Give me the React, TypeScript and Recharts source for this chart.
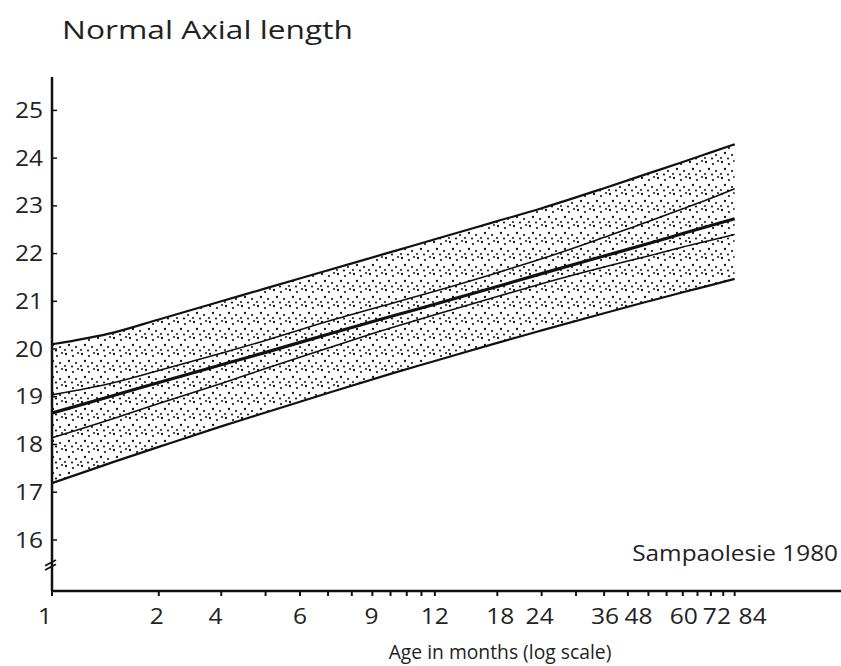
import { ComposedChart, Area, Line, XAxis, YAxis, ReferenceLine } from "recharts";

const ages = [1, 1.5, 2, 3, 4, 6, 9, 12, 18, 24, 36, 48, 60, 72, 84];
const upperLimit = [20.1, 20.35, 20.62, 21.0, 21.27, 21.65, 22.03, 22.3, 22.68, 22.95, 23.37, 23.68, 23.92, 24.12, 24.29];
const upperSD = [19.04, 19.3, 19.55, 19.91, 20.18, 20.58, 20.95, 21.21, 21.6, 21.89, 22.34, 22.67, 22.94, 23.16, 23.36];
const mean = [18.66, 19.03, 19.3, 19.67, 19.93, 20.31, 20.68, 20.94, 21.31, 21.58, 21.95, 22.21, 22.42, 22.59, 22.73];
const lowerSD = [18.14, 18.55, 18.86, 19.28, 19.59, 20.02, 20.44, 20.72, 21.1, 21.37, 21.72, 21.95, 22.14, 22.28, 22.4];
const lowerLimit = [17.19, 17.64, 17.95, 18.38, 18.67, 19.08, 19.48, 19.75, 20.13, 20.39, 20.75, 21.0, 21.19, 21.34, 21.47];

const ageTicks = [1, 2, 3, 4, 5, 6, 7, 8, 9, 10, 11, 12, 18, 24, 30, 36, 42, 48, 54, 60, 66, 72, 78, 84];
const ageLabels = [1, 2, 4, 6, 9, 12, 18, 24, 36, 48, 60, 72, 84];
const lengthTicks = [16, 17, 18, 19, 20, 21, 22, 23, 24, 25];

const data = ages.map((age, i) => ({
  age,
  band: [lowerLimit[i], upperLimit[i]],
  upperLimit: upperLimit[i],
  upperSD: upperSD[i],
  mean: mean[i],
  lowerSD: lowerSD[i],
  lowerLimit: lowerLimit[i],
}));

const INK = "#111";
const FONT = "'Open Sans', 'Noto Sans', sans-serif";

// the printed labels sit a little off their tick marks in the original
const labelShift: Record<number, number> = {
  1: -7, 2: -2, 4: -50, 6: -28, 9: -19, 12: 0, 18: 3, 24: -2, 36: 1, 48: -10, 60: 1, 72: 6, 84: 18,
};

// ─── Ticks (the scan is stretched sideways, so the text is too) ───────────────

function AgeTick({ x, y, payload }: any) {
  if (!ageLabels.includes(payload.value)) return <g />;
  const dx = labelShift[payload.value] ?? 0;
  return (
    <text
      transform={`translate(${x + dx} ${y}) scale(1.17 1)`}
      textAnchor="middle"
      dy="0.72em"
      fontSize={21}
      fontFamily={FONT}
      fill="#222"
    >
      {payload.value}
    </text>
  );
}

function LengthTick({ x, y, payload }: any) {
  return (
    <text
      transform={`translate(${x} ${y}) scale(1.17 1)`}
      textAnchor="end"
      dy="0.36em"
      fontSize={21}
      fontFamily={FONT}
      fill="#222"
    >
      {payload.value}
    </text>
  );
}

export default function App() {
  return (
    <div style={{ position: "absolute", left: 0, top: 0, width: 841, height: 666, background: "#fff" }}>
      <ComposedChart width={841} height={666} data={data} margin={{ top: 77, right: 0, bottom: 0, left: 0 }}>
        <defs>
          <pattern id="stipple" width="16" height="16" patternUnits="userSpaceOnUse">
            <circle cx="2" cy="2" r="1.15" fill={INK} />
            <circle cx="9" cy="4" r="1.1" fill={INK} />
            <circle cx="14" cy="1" r="1" fill={INK} />
            <circle cx="5" cy="9" r="1.15" fill={INK} />
            <circle cx="12" cy="11" r="1.1" fill={INK} />
            <circle cx="1" cy="14" r="1" fill={INK} />
            <circle cx="8" cy="14.5" r="1.1" fill={INK} />
          </pattern>
        </defs>
        <XAxis
          dataKey="age"
          type="number"
          scale="log"
          domain={[1, 167.5]}
          ticks={ageTicks}
          interval={0}
          height={75}
          tickSize={5}
          tickMargin={13}
          tick={<AgeTick />}
          axisLine={{ stroke: INK, strokeWidth: 2.5 }}
          tickLine={{ stroke: INK, strokeWidth: 2 }}
        />
        <YAxis
          type="number"
          domain={[14.93, 25.7]}
          ticks={lengthTicks}
          interval={0}
          width={52}
          tickSize={-5}
          tickMargin={14}
          tick={<LengthTick />}
          axisLine={{ stroke: INK, strokeWidth: 2.5 }}
          tickLine={{ stroke: INK, strokeWidth: 1.5 }}
        />
        <Area
          type="monotone"
          dataKey="band"
          stroke="none"
          fill="url(#stipple)"
          fillOpacity={1}
          isAnimationActive={false}
          dot={false}
          activeDot={false}
        />
        <Line type="monotone" dataKey="upperLimit" stroke={INK} strokeWidth={2.2} dot={false} activeDot={false} isAnimationActive={false} />
        <Line type="monotone" dataKey="upperSD" stroke={INK} strokeWidth={1.6} dot={false} activeDot={false} isAnimationActive={false} />
        <Line type="monotone" dataKey="mean" stroke={INK} strokeWidth={3.2} dot={false} activeDot={false} isAnimationActive={false} />
        <Line type="monotone" dataKey="lowerSD" stroke={INK} strokeWidth={1.6} dot={false} activeDot={false} isAnimationActive={false} />
        <Line type="monotone" dataKey="lowerLimit" stroke={INK} strokeWidth={2.2} dot={false} activeDot={false} isAnimationActive={false} />
        {/* axis break */}
        <ReferenceLine
          segment={[{ x: 0.956, y: 15.46 }, { x: 1.026, y: 15.58 }]}
          stroke={INK}
          strokeWidth={1.8}
          ifOverflow="visible"
        />
        <ReferenceLine
          segment={[{ x: 0.956, y: 15.37 }, { x: 1.026, y: 15.49 }]}
          stroke={INK}
          strokeWidth={1.8}
          ifOverflow="visible"
        />
      </ComposedChart>
      <svg
        width={841}
        height={666}
        style={{ position: "absolute", left: 0, top: 0, pointerEvents: "none" }}
        fontFamily={FONT}
        fill="#222"
      >
        <text transform="translate(62 39) scale(1.22 1)" fontSize={26}>
          Normal Axial length
        </text>
        <text transform="translate(838 561) scale(1.16 1)" fontSize={21} textAnchor="end">
          Sampaolesie 1980
        </text>
        <text transform="translate(500 659) scale(0.99 1)" fontSize={19.5} textAnchor="middle">
          Age in months (log scale)
        </text>
      </svg>
    </div>
  );
}
